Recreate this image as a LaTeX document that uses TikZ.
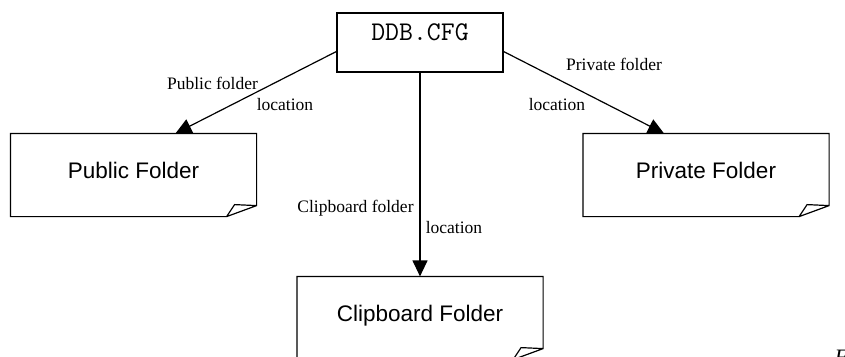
\documentclass[tikz,border=0pt]{standalone}
\usepackage{fontspec}
\usepackage{tikz}
\usetikzlibrary{arrows.meta}
\newfontfamily\sansfam{Liberation Sans}
\newfontfamily\seriffam{Liberation Serif}
\tikzset{
cfgbox/.style={
 draw=black, 
 minimum width=166pt, 
 minimum height=59pt, 
 inner sep=0pt, 
 text height=19pt, 
 text depth=24pt, 
 font=\ttfamily\fontsize{27pt}{30pt}\selectfont
 },
folder/.style={
 minimum width=245pt, 
 minimum height=82pt, 
 inner sep=0pt, 
 text height=16pt, 
 text depth=10pt, 
 font=\sansfam\fontsize{22.5pt}{26pt}\selectfont
 },
foldline/.style={
 draw=black, 
 line join=miter
 },
flowline/.style={
 draw=black, 
 -{Triangle[width=15pt,length=16pt]}
 },
lbl/.style={
 inner sep=0pt, 
 font=\seriffam\fontsize{17.5pt}{20pt}\selectfont
 }
}
\begin{document}
\begin{tikzpicture}[x=1pt,y=-1pt,line width=1.2pt]
\useasboundingbox (0,0) rectangle (845,356);
\node[cfgbox] (cfg) at (420,42.5) {DDB.CFG};
\node[folder] (pub) at (133.5,175) {Public Folder};
\node[folder] (priv) at (706,175) {Private Folder};
\node[folder] (clip) at (420,318) {Clipboard Folder};
\foreach \f in {pub,priv,clip}
 \draw[foldline] (\f.south west) -- (\f.north west) -- (\f.north east)
  -- ([yshift=11pt]\f.south east) -- ([xshift=-30pt]\f.south east) -- cycle
  ([yshift=11pt]\f.south east) -- ([xshift=-22pt,yshift=12pt]\f.south east)
  -- ([xshift=-30pt]\f.south east);
\draw[flowline] ([yshift=-9pt]cfg.west) -- ([xshift=42pt]pub.north);
\draw[flowline] ([yshift=-9pt]cfg.east) -- ([xshift=-42pt]priv.north);
\draw[flowline] (cfg.south) -- (clip.north);
\node[lbl] (publbl) at (212.5,83) {Public folder};
\node[lbl] (publoc) at (285,105) {location};
\node[lbl] (privlbl) at (614,64) {Private folder};
\node[lbl] (privloc) at (557,105) {location};
\node[lbl] (cliplbl) at (355.5,208) {Clipboard folder};
\node[lbl] (cliploc) at (454,228) {location};
\node[lbl,anchor=north west,font=\seriffam\itshape\fontsize{22pt}{26pt}\selectfont] (fig) at (834,349) {F};
\end{tikzpicture}
\end{document}
